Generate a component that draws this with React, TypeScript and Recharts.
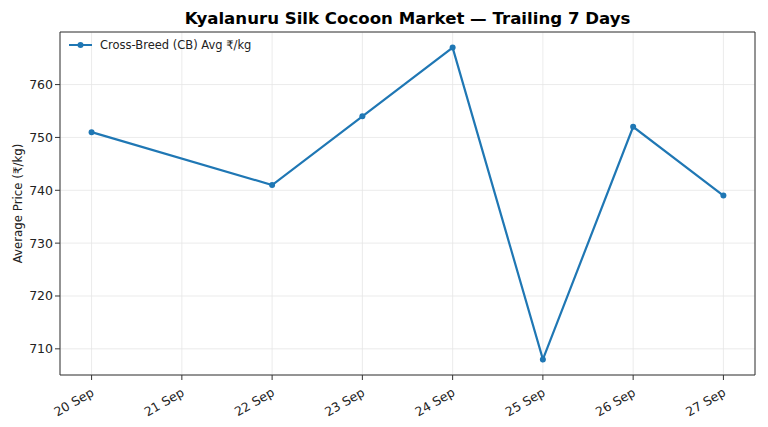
import React from "react";
import { LineChart, Line, XAxis, YAxis, CartesianGrid, ReferenceArea } from "recharts";

const days = [20, 22, 23, 24, 25, 26, 27];
const prices = [751, 741, 754, 767, 708, 752, 739];
const xTicks = [20, 21, 22, 23, 24, 25, 26, 27];
const yTicks = [710, 720, 730, 740, 750, 760];
const monthLabel = "Sep";

const data = days.map((d, i) => ({ day: d, price: prices[i] }));

const X_DOMAIN: [number, number] = [19.65, 27.35];
const Y_DOMAIN: [number, number] = [705.05, 769.95];
const FONT = "'DejaVu Sans', sans-serif";

const XTick = (props: any) => {
  const { x, y, payload } = props;
  const ax = x + 1;
  const ay = y + 9;
  return (
    <g>
      <text
        x={ax}
        y={ay}
        transform={`rotate(-30, ${ax}, ${ay})`}
        textAnchor="end"
        dominantBaseline="central"
        fontSize={12.5}
        fontFamily={FONT}
        fill="#222"
      >
        {`${payload.value} ${monthLabel}`}
      </text>
    </g>
  );
};

export default function App() {
  return (
    <div style={{ position: "relative", width: 768, height: 427, background: "#fff" }}>
      <style>{`body{margin:0}`}</style>
      <div
        style={{
          position: "absolute",
          top: 8,
          left: 60,
          width: 695,
          textAlign: "center",
          fontFamily: FONT,
          fontWeight: "bold",
          fontSize: 16.6,
          color: "#000",
          lineHeight: "22px",
          whiteSpace: "nowrap",
        }}
      >
        Kyalanuru Silk Cocoon Market — Trailing 7 Days
      </div>
      <LineChart
        width={768}
        height={427}
        data={data}
        margin={{ top: 32, right: 13, bottom: 0, left: 0 }}
      >
        <CartesianGrid stroke="#e6e6e6" strokeWidth={0.8} />
        <XAxis
          dataKey="day"
          type="number"
          domain={X_DOMAIN}
          ticks={xTicks}
          allowDataOverflow
          height={52}
          tick={<XTick />}
          tickSize={5}
          stroke="#333"
          tickLine={{ stroke: "#333" }}
          axisLine={false}
        />
        <YAxis
          type="number"
          domain={Y_DOMAIN}
          ticks={yTicks}
          allowDataOverflow
          width={60}
          tickSize={5}
          axisLine={false}
          tickLine={{ stroke: "#333" }}
          tick={{ fontSize: 12.5, fontFamily: FONT, fill: "#222" }}
          label={{
            value: "Average Price (₹/kg)",
            angle: -90,
            position: "insideLeft",
            offset: 18,
            style: { fontSize: 11.8, fontFamily: FONT, fill: "#222", textAnchor: "middle" },
          }}
        />
        <ReferenceArea
          x1={X_DOMAIN[0]}
          x2={X_DOMAIN[1]}
          y1={Y_DOMAIN[0]}
          y2={Y_DOMAIN[1]}
          fill="none"
          stroke="#333"
          strokeWidth={1}
          fillOpacity={0}
        />
        <Line
          dataKey="price"
          stroke="#1f77b4"
          strokeWidth={2.2}
          dot={{ r: 3, fill: "#1f77b4", stroke: "#1f77b4", strokeWidth: 0 }}
          activeDot={false}
          isAnimationActive={false}
        />
      </LineChart>
      <div
        style={{
          position: "absolute",
          top: 38,
          left: 68,
          display: "flex",
          alignItems: "center",
          fontFamily: FONT,
          fontSize: 11.5,
          color: "#222",
        }}
      >
        <svg width={26} height={10} style={{ marginRight: 6 }}>
          <line x1={1} y1={5} x2={24} y2={5} stroke="#1f77b4" strokeWidth={2} />
          <circle cx={12.5} cy={5} r={3} fill="#1f77b4" />
        </svg>
        <span>Cross-Breed (CB) Avg ₹/kg</span>
      </div>
    </div>
  );
}
